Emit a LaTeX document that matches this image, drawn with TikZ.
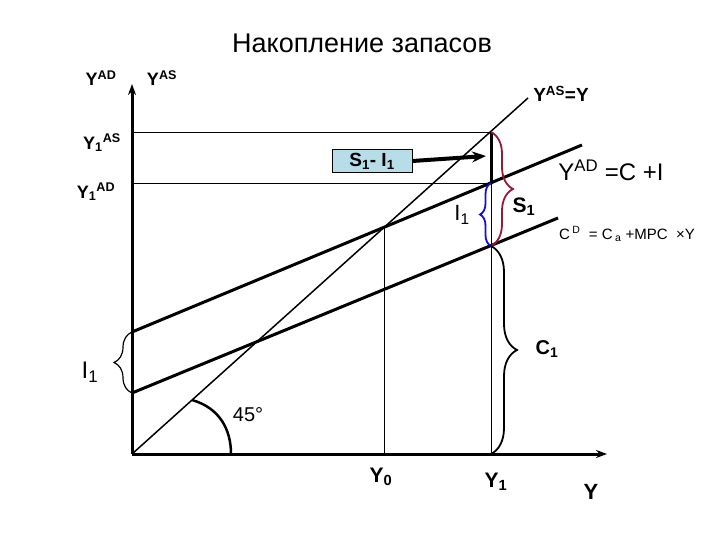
\documentclass[tikz,border=0pt]{standalone}
\usepackage{fontspec}
\setmainfont{Liberation Sans}
\usetikzlibrary{arrows.meta,decorations.pathreplacing}
\definecolor{gapfill}{RGB}{183,221,232}
\definecolor{savered}{RGB}{150,25,55}
\definecolor{invblue}{RGB}{15,15,215}
\newcommand{\fsz}[1]{\fontsize{#1}{#1}\selectfont}

\begin{document}
\begin{tikzpicture}[x=1pt,y=-1pt,>=stealth,
  axis/.style={line width=3pt,-{Stealth[length=11pt,width=8pt]}},
  sched/.style={line width=3pt},
  guide/.style={line width=0.9pt},
  curly/.style={decorate,line width=1.8pt,decoration={brace,amplitude=#1}}]
  \useasboundingbox (0,0) rectangle (720,540);

  \coordinate (O) at (132,454);
  \coordinate (Ytop) at (132,84);
  \coordinate (Xend) at (607,454);
  \coordinate (L45) at (528,98);
  \coordinate (A0) at (132,332);
  \coordinate (A1) at (582,145);
  \coordinate (C0) at (132,393);
  \coordinate (C1) at (558,218);
  \coordinate (E0) at (384,227);
  \coordinate (B0) at (384,454);
  \coordinate (P1) at (491,132);
  \coordinate (Q1) at (491,183);
  \coordinate (R1) at (491,246);
  \coordinate (B1) at (491,454);
  \coordinate (H1) at (132,132);
  \coordinate (H2) at (132,183);
  \coordinate (T0) at (192,400);
  \coordinate (T1) at (231,454);

  % guide lines
  \draw[guide] (H1) -- (P1);
  \draw[guide] (H2) -- (Q1);
  \draw[guide] (E0) -- (B0);
  \draw[guide] (Q1) -- (B1);
  \draw[line width=1.5pt] (O) -- (L45);

  % schedules and axes
  \draw[sched] (A0) -- (A1);
  \draw[sched] (C0) -- (C1);
  \draw[sched] (P1) -- (Q1);
  \draw[line width=2.5pt] (T0) .. controls (220,408) and (231,430) .. (T1);
  \draw[axis] (O) -- (Ytop);
  \draw[axis] (O) -- (Xend);

  % braces
  \draw[curly=22pt,savered] (P1) -- (R1);
  \draw[curly=11pt,invblue] (R1) -- (Q1);
  \draw[curly=26pt] (R1) -- (B1);
  \draw[curly=18pt,line width=1.2pt] (C0) -- (A0);

  % gap box and arrow
  \node[draw,fill=gapfill,line width=0.8pt,minimum width=80pt,minimum height=23pt,
        font=\bfseries\fsz{19}] (gap) at (372,161) {S\textsubscript{1}- I\textsubscript{1}};
  \coordinate (gapTip) at (486,156);
  \draw[line width=4pt,-{Stealth[length=14pt,width=11pt]}] (gap.east) -- (gapTip);

  % labels
  \node[font=\fsz{27}] (title) at (362,43) {Накопление запасов};
  \node[font=\bfseries\fsz{18}] (yad) at (101,78) {Y\textsuperscript{AD}};
  \node[font=\bfseries\fsz{18}] (yas) at (162,78) {Y\textsuperscript{AS}};
  \node[font=\bfseries\fsz{18}] (y1as) at (102,143) {Y\textsubscript{1}\textsuperscript{AS}};
  \node[font=\bfseries\fsz{18}] (y1ad) at (96,192) {Y\textsubscript{1}\textsuperscript{AD}};
  \node[font=\bfseries\fsz{19}] (eqline) at (561,94) {Y\textsuperscript{AS}=Y};
  \node[font=\fsz{24}] (adline) at (611,170) {Y\textsuperscript{AD} =C +I};
  \node[font=\fsz{15}] (cline) at (627,234) {C\,\textsuperscript{D}\ \ = C\,\textsubscript{a}\ +MPC\ \ ×Y};
  \node[font=\fsz{22}] (i1r) at (462,215) {I\textsubscript{1}};
  \node[font=\bfseries\fsz{21}] (s1) at (524,207) {S\textsubscript{1}};
  \node[font=\bfseries\fsz{20}] (c1) at (547,349) {C\textsubscript{1}};
  \node[font=\fsz{24}] (i1l) at (90,372) {I\textsubscript{1}};
  \node[font=\fsz{20}] (ang) at (248,415) {45°};
  \node[font=\bfseries\fsz{21}] (y0) at (381,477) {Y\textsubscript{0}};
  \node[font=\bfseries\fsz{21}] (y1) at (496,482) {Y\textsubscript{1}};
  \node[font=\bfseries\fsz{22}] (yy) at (591,492) {Y};
\end{tikzpicture}
\end{document}
